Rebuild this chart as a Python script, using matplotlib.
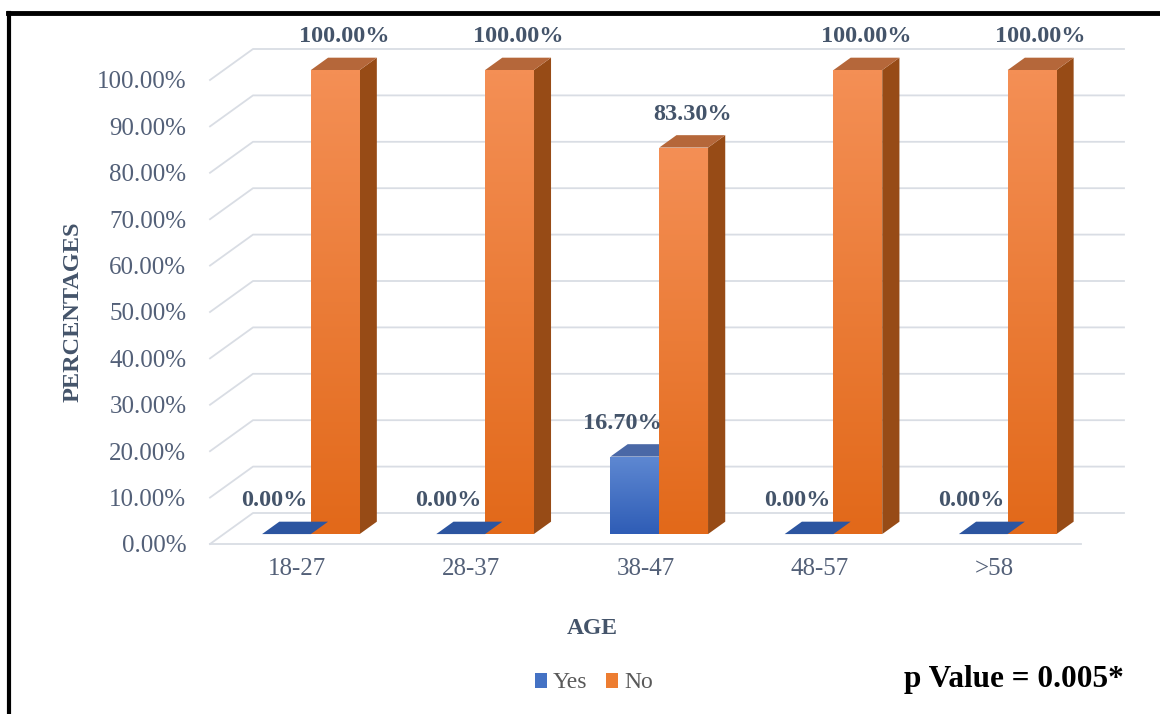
import numpy as np
import matplotlib.pyplot as plt
from matplotlib.colors import to_rgb
from matplotlib.patches import Polygon, Patch
from matplotlib.lines import Line2D

plt.rcParams['font.family'] = ['Liberation Serif', 'DejaVu Serif']

ages = ["18-27", "28-37", "38-47", "48-57", ">58"]
yes_pct = [0.0, 0.0, 16.7, 0.0, 0.0]
no_pct = [100.0, 100.0, 83.3, 100.0, 100.0]
y_ticks = [0, 10, 20, 30, 40, 50, 60, 70, 80, 90, 100]

W, H = 1160, 714
fig = plt.figure(figsize=(W / 100, H / 100), dpi=100)

# front plane of the 3d box in pixels
left_px, right_px, bottom_px, top_px = 210, 1081, 544, 80
ax = fig.add_axes([left_px / W, (H - bottom_px) / H,
                   (right_px - left_px) / W, (bottom_px - top_px) / H])
ax.set_xlim(-0.5, 4.5)
ax.set_ylim(0, 100)
px_x = (right_px - left_px) / 5.0     # pixels per category
px_y = (bottom_px - top_px) / 100.0   # pixels per percent

DEPTH_X, DEPTH_Y = 43, 31  # depth of the floor in pixels


def at(x, y, d):
    # position of (x, y) pushed back into depth d (0 = front, 1 = back wall)
    return (x + d * DEPTH_X / px_x, y + d * DEPTH_Y / px_y)


grid_c = "#D9DDE4"
for v in y_ticks:
    p0 = at(-0.5, v, 0)
    p1 = at(-0.5, v, 1)
    p2 = at(4.5, v, 1)
    ax.add_line(Line2D([p0[0], p1[0], p2[0]], [p0[1], p1[1], p2[1]],
                       color=grid_c, lw=1.3, clip_on=False, zorder=1))
ax.add_line(Line2D([-0.5, 4.5], [0, 0], color=grid_c, lw=1.3,
                   clip_on=False, zorder=1))

bar_w = 0.28
d0, d1 = 0.32, 0.72
x = np.arange(len(ages))

# name, values, centres, base colour, gradient (top, bottom), side, top, label dx
series = [
    ("Yes", yes_pct, x - bar_w / 2, "#4472C4",
     ("#5E88D2", "#2F5DB6"), "#2E4F8E", "#4A68A6", -15),
    ("No", no_pct, x + bar_w / 2, "#ED7D31",
     ("#F48F55", "#E2691A"), "#974B16", "#B5673A", 0),
]

label_c = "#44546A"
for name, vals, xc, base, grad, side_c, top_c, ldx in series:
    fx, fy = at(0, 0, d0)
    bars = ax.bar(xc + fx, vals, width=bar_w, bottom=fy, color=base,
                  label=name, zorder=3, clip_on=False, linewidth=0)
    for b, xi, v in zip(bars, xc, vals):
        xl, xr = xi - bar_w / 2, xi + bar_w / 2
        if v > 0:
            # vertical colour gradient on the front face
            g = np.linspace(0, 1, 64).reshape(-1, 1)
            c0 = np.array(to_rgb(grad[1]))
            c1 = np.array(to_rgb(grad[0]))
            img = c0 + (c1 - c0) * g[..., None]
            im = ax.imshow(img, origin="lower", aspect="auto", zorder=3.1,
                           extent=[xl + fx, xr + fx, fy, fy + v],
                           interpolation="bilinear")
            im.set_clip_path(b)
            side = [at(xr, 0, d0), at(xr, 0, d1), at(xr, v, d1), at(xr, v, d0)]
            ax.add_patch(Polygon(side, closed=True, color=side_c, lw=0,
                                 zorder=3, clip_on=False))
            top = [at(xl, v, d0), at(xr, v, d0), at(xr, v, d1), at(xl, v, d1)]
            ax.add_patch(Polygon(top, closed=True, color=top_c, lw=0,
                                 zorder=3, clip_on=False))
        else:
            flat = [at(xl, 0, d0), at(xr, 0, d0), at(xr, 0, d1), at(xl, 0, d1)]
            ax.add_patch(Polygon(flat, closed=True, color="#2C55A0", lw=0,
                                 zorder=3.2, clip_on=False))
        lx, ly = at(xi, v, (d0 + d1) / 2)
        ax.annotate(f"{v:.2f}%", (lx, ly), xytext=(ldx, 19.5),
                    textcoords="offset points", ha="center", va="center",
                    fontsize=17.5, fontweight="bold", color=label_c,
                    zorder=5, annotation_clip=False)

ax.set_xlim(-0.5, 4.5)
ax.set_ylim(0, 100)

ax.set_yticks(y_ticks)
ax.set_yticklabels([f"{v:.2f}%" for v in y_ticks])
ax.set_xticks(x)
ax.set_xticklabels(ages)
ax.tick_params(axis="y", length=0, pad=17, labelsize=18, labelcolor="#536078")
ax.tick_params(axis="x", length=0, pad=10, labelsize=18, labelcolor="#536078")
for s in ax.spines.values():
    s.set_visible(False)
ax.set_facecolor("none")

fig.text(73 / W, 1 - 312 / H, "PERCENTAGES", rotation=90, ha="center",
         va="center", fontsize=17.5, fontweight="bold", color=label_c)
fig.text(592 / W, 1 - 628 / H, "AGE", ha="center", va="center",
         fontsize=17, fontweight="bold", color=label_c)

handles = [Patch(facecolor="#4472C4", label="Yes"),
           Patch(facecolor="#ED7D31", label="No")]
fig.legend(handles=handles, loc="center", bbox_to_anchor=(594 / W, 1 - 683 / H),
           ncol=2, frameon=False, fontsize=17, handlelength=0.5,
           handleheight=0.6, handletextpad=0.25, columnspacing=0.8,
           labelcolor="#595959")

fig.text(1014 / W, 1 - 680 / H, "p Value = 0.005*", ha="center", va="center",
         fontsize=22.5, fontweight="bold", color="black")

# frame lines along the top and left edge
fig.add_artist(Line2D([8 / W, 1.0], [1 - 13 / H, 1 - 13 / H], color="black",
                      lw=3.5, transform=fig.transFigure))
fig.add_artist(Line2D([9 / W, 9 / W], [0, 1 - 13 / H], color="black",
                      lw=3, transform=fig.transFigure))

fig.savefig("out.png", dpi=100)
